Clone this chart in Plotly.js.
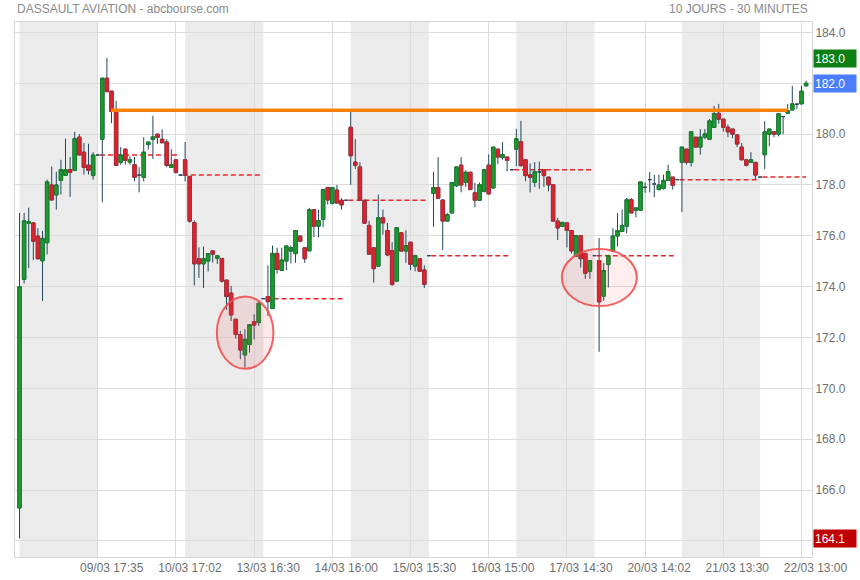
<!DOCTYPE html>
<html><head><meta charset="utf-8">
<script src="https://cdn.plot.ly/plotly-3.0.1.min.js"></script>
<style>html,body{margin:0;padding:0;background:#fff}</style>
</head><body>
<div id="chart" style="width:860px;height:580px"></div>
<script>
// 30-minute candles, 18 per trading day (09:00 ... 17:00 + 17:35 closing auction)
const tickLabels = ["09/03 17:35","10/03 17:02","13/03 16:30","14/03 16:00","15/03 15:30",
                    "16/03 15:00","17/03 14:30","20/03 14:02","21/03 13:30","22/03 13:00"];
const priceTicks = [164,166,168,170,172,174,176,178,180,182,184];

const openP = [
 165.30,174.29,176.50,176.51,175.99,175.02,175.73,178.00,177.61,178.18,178.38,178.60,178.58,179.88,179.29,178.78,178.37,179.18,
 179.80,182.20,181.69,180.89,178.89,179.41,178.90,178.80,178.39,178.30,179.59,179.79,180.00,179.80,179.69,178.69,178.99,178.39,
 178.99,178.34,176.52,175.10,174.90,175.01,175.41,175.12,175.11,174.26,173.75,172.72,172.12,171.32,171.73,172.63,172.59,173.53,
 173.61,173.14,175.31,174.64,175.01,175.40,175.30,175.99,175.53,175.41,177.03,176.38,176.65,177.90,177.28,177.80,177.40,177.40,
 180.27,178.90,178.71,177.40,176.41,175.53,174.81,176.71,176.21,175.42,174.22,176.12,175.40,175.75,174.81,175.10,174.66,175.22,
 177.67,177.90,177.41,176.58,176.90,177.97,178.78,178.10,178.50,177.69,177.40,177.75,178.78,177.88,179.41,179.08,179.10,178.60,
 179.41,179.70,178.99,178.40,178.10,178.51,178.60,178.31,178.01,176.58,176.37,176.51,176.21,175.20,176.01,175.31,174.61,175.22,
 175.03,173.63,174.87,175.40,175.99,176.18,176.38,177.42,177.01,177.01,177.91,178.21,178.04,177.82,177.86,178.18,178.31,178.21,
 178.89,179.41,178.89,179.88,179.49,179.88,179.80,180.26,180.82,180.59,180.27,180.20,179.97,179.49,178.99,178.89,178.89,178.31,
 179.19,180.00,180.09,180.00,180.69,180.82,180.95,181.18,181.19,181.90
];
const highP = [
 176.90,176.90,177.11,176.51,176.30,176.20,178.21,178.73,178.52,178.99,179.82,179.10,180.09,180.00,179.65,179.62,179.29,179.18,
 182.20,182.99,181.69,181.31,179.49,179.41,179.13,179.10,178.70,179.88,179.69,180.72,180.00,180.19,179.80,179.41,178.99,178.39,
 179.69,178.34,176.61,175.55,175.58,175.29,175.41,175.22,175.11,174.26,174.03,172.72,172.26,172.33,172.51,172.91,173.37,173.53,
 174.84,175.62,175.53,175.53,175.62,175.62,176.21,176.01,175.53,177.10,177.03,177.03,177.82,177.90,177.90,178.00,177.48,177.40,
 180.95,179.80,178.90,177.40,176.59,175.53,177.62,177.03,176.51,175.75,176.32,176.12,176.22,175.75,175.23,175.10,174.84,175.22,
 178.52,179.10,177.41,176.90,178.10,178.71,179.10,178.58,178.50,178.08,178.10,178.60,179.20,179.49,179.41,179.69,179.10,178.60,
 180.21,180.52,178.99,178.85,178.90,178.92,178.60,178.31,178.01,176.71,176.53,176.51,176.21,176.01,176.01,175.31,175.03,175.22,
 175.92,174.94,175.23,176.30,176.90,177.03,177.49,177.49,177.10,178.12,178.10,178.51,178.41,178.41,178.41,178.80,178.31,178.21,
 179.49,179.41,180.09,179.88,180.20,180.20,180.59,181.11,181.19,180.59,180.37,180.20,179.97,179.65,178.99,179.29,178.89,178.31,
 180.51,180.20,180.09,180.80,180.69,181.19,181.90,181.19,181.90,182.10
];
const lowP = [
 164.10,174.13,174.73,175.05,175.07,173.44,175.27,177.41,177.03,177.62,178.38,177.53,178.54,179.18,178.41,178.41,178.21,179.18,
 177.32,181.67,180.43,178.77,178.80,178.80,178.80,178.14,177.71,178.14,179.39,179.02,179.62,179.66,178.70,178.69,178.44,178.39,
 178.14,176.52,174.05,174.34,173.95,174.60,174.95,174.90,174.16,173.10,172.65,171.96,171.15,170.82,171.41,171.93,172.46,173.53,
 172.85,173.14,174.52,174.64,174.65,174.91,174.94,175.75,174.94,175.41,175.95,175.95,176.34,177.24,177.24,177.29,177.03,177.40,
 178.01,178.63,177.40,176.50,175.28,174.16,174.81,176.05,175.20,174.03,174.22,175.40,174.94,174.65,174.61,174.61,173.95,175.22,
 176.35,177.48,175.44,176.58,176.90,177.92,177.71,177.92,177.82,177.12,177.40,177.71,177.62,177.88,178.83,179.00,178.54,178.60,
 178.73,178.73,178.15,177.71,177.92,177.85,177.92,177.75,176.58,175.84,176.37,175.55,175.31,175.20,174.75,174.31,174.31,175.22,
 171.44,173.44,173.97,175.40,175.59,176.15,176.10,176.90,176.73,177.01,177.69,177.71,177.52,177.79,177.82,178.18,177.82,178.21,
 176.93,178.80,178.73,179.49,179.19,179.80,179.80,180.26,180.41,180.10,179.88,179.84,179.49,178.99,178.73,178.89,178.24,178.31,
 178.63,179.52,179.88,179.91,180.00,180.82,180.95,180.98,181.19,181.90
];
const closeP = [
 174.00,176.59,176.55,175.79,175.10,175.90,178.12,177.41,178.00,178.60,178.60,178.50,179.82,179.18,178.69,178.58,179.18,179.18,
 182.20,181.67,180.89,178.77,179.18,178.97,178.99,178.30,178.39,179.29,179.69,179.89,179.87,179.66,178.77,178.80,178.50,178.39,
 178.39,176.58,174.90,174.90,175.10,175.30,175.28,175.22,174.22,173.61,172.89,172.12,171.51,171.93,172.51,172.49,173.35,173.53,
 173.41,175.31,174.68,175.05,175.60,175.53,176.21,175.79,175.10,177.03,176.38,176.60,177.82,177.41,177.90,177.29,177.22,177.40,
 179.15,178.77,177.40,176.50,175.28,174.71,176.71,176.51,175.25,174.09,176.32,175.40,175.62,174.88,175.23,174.61,174.09,175.22,
 177.90,177.48,176.58,176.84,178.10,178.71,178.00,178.50,177.82,177.40,178.01,178.60,177.65,179.49,179.10,179.20,178.97,178.60,
 179.82,178.76,178.37,178.30,178.52,178.51,178.37,178.00,176.58,176.31,176.53,176.21,175.41,176.01,175.10,174.53,175.03,175.22,
 173.40,174.64,175.23,175.99,176.21,176.41,177.42,176.90,177.10,178.12,177.91,178.21,178.04,178.00,178.18,178.52,177.99,178.21,
 179.49,178.89,180.09,179.49,179.88,180.01,180.52,180.81,180.59,180.27,180.09,180.00,179.61,178.99,178.78,178.99,178.39,178.31,
 180.09,180.20,180.00,180.80,180.69,180.93,181.19,181.18,181.69,182.00
];

const resistanceLevel = 180.94;       // orange horizontal line
const resistanceFrom = 20, resistanceTo = 167;

const PER_DAY = 18, TICK_STEP = 17;
const WICK = '#23485a';

const idx = closeP.map((_, i) => i);
const isDoji = closeP.map((c, i) => c === openP[i]);
const bO = openP.map((o, i) => isDoji[i] ? null : o);
const bC = closeP.map((c, i) => isDoji[i] ? null : c);
const bH = openP.map((o, i) => isDoji[i] ? null : Math.max(o, closeP[i]));
const bL = openP.map((o, i) => isDoji[i] ? null : Math.min(o, closeP[i]));

const wicks = {
  type: 'candlestick', x: idx, open: openP, high: highP, low: lowP, close: closeP,
  increasing: {line: {color: WICK, width: 1}, fillcolor: WICK},
  decreasing: {line: {color: WICK, width: 1}, fillcolor: WICK},
  whiskerwidth: 0, hoverinfo: 'skip', showlegend: false
};
const bodies = {
  type: 'candlestick', x: idx, open: bO, high: bH, low: bL, close: bC,
  increasing: {line: {color: '#17802a', width: 1}, fillcolor: '#1f9a30'},
  decreasing: {line: {color: '#b32a36', width: 1}, fillcolor: '#e0222d'},
  whiskerwidth: 0, hoverinfo: 'skip', showlegend: false
};

const nDays = Math.ceil(closeP.length / PER_DAY);
const shapes = [];
for (let d = 0; d < nDays; d += 2) {
  shapes.push({type: 'rect', xref: 'x', yref: 'paper', x0: d * PER_DAY, x1: d * PER_DAY + PER_DAY - 1,
    y0: 0, y1: 1, fillcolor: '#ebebeb', line: {width: 0}, layer: 'below'});
}
// previous-close reference lines
for (let d = 0; d < nDays - 1; d++) {
  const ci = d * PER_DAY + PER_DAY - 1;
  shapes.push({type: 'line', xref: 'x', yref: 'y', x0: ci + 0.5,
    x1: Math.min(ci + PER_DAY - 0.4, closeP.length - 1), y0: closeP[ci], y1: closeP[ci],
    line: {color: '#e8262a', width: 1.5, dash: '5px,3px'}, layer: 'between'});
}
shapes.push({type: 'line', xref: 'x', yref: 'y', x0: resistanceFrom - 0.1, x1: resistanceTo,
  y0: resistanceLevel, y1: resistanceLevel, line: {color: '#ff8000', width: 3.5}, layer: 'above'});
// highlighted zones
shapes.push({type: 'circle', xref: 'x', yref: 'y', x0: 42.9, x1: 55.2, y0: 170.77, y1: 173.61,
  line: {color: 'rgba(240,80,80,0.9)', width: 2}, fillcolor: 'rgba(240,70,70,0.12)', layer: 'above'});
shapes.push({type: 'circle', xref: 'x', yref: 'y', x0: 117.9, x1: 134.2, y0: 173.24, y1: 175.48,
  line: {color: 'rgba(240,80,80,0.9)', width: 2}, fillcolor: 'rgba(240,70,70,0.09)', layer: 'above'});

const tickVals = tickLabels.map((_, k) => TICK_STEP + TICK_STEP * k);
const FONT = 'Arial, "Liberation Sans", sans-serif';

const maxHigh = Math.max(...highP), minLow = Math.min(...lowP), last = closeP[closeP.length - 1];
// price tick labels hidden where the value boxes sit over them
const boxed = [minLow, last].map(v => Math.round(v / 2) * 2);
const priceText = priceTicks.map(t => boxed.includes(t) ? '' : t.toFixed(1));

function valBox(v, color) {
  return {xref: 'paper', yref: 'y', x: 1, y: v, xanchor: 'left', yanchor: 'middle', xshift: 1,
    text: v.toFixed(1), showarrow: false, bgcolor: color, width: 40, height: 15, borderpad: 1,
    align: 'left', font: {family: FONT, size: 12, color: '#ffffff'}};
}

const layout = {
  width: 860, height: 580,
  margin: {l: 15, r: 48, t: 22, b: 23},
  paper_bgcolor: '#ffffff', plot_bgcolor: '#ffffff',
  showlegend: false, boxgap: 0.26, boxgroupgap: 0, boxmode: 'overlay',
  font: {family: FONT, size: 12, color: '#6f6f6f'},
  xaxis: {range: [-0.98, 172.28], rangeslider: {visible: false}, tickmode: 'array',
    tickvals: tickVals, ticktext: tickLabels, showgrid: true, gridcolor: '#dcdcdc', gridwidth: 1,
    zeroline: false, showline: true, mirror: true, linecolor: '#d6d6d6', linewidth: 1,
    ticks: '', ticklabelshift: 14, tickfont: {family: FONT, size: 12, color: '#6f6f6f'}},
  yaxis: {range: [163.37, 184.41], side: 'right', tickmode: 'array', tickvals: priceTicks, ticktext: priceText,
    showgrid: true, gridcolor: '#dcdcdc', gridwidth: 1, zeroline: false, showline: true, mirror: true,
    linecolor: '#d6d6d6', linewidth: 1, ticks: '', tickfont: {family: FONT, size: 12, color: '#6f6f6f'}},
  shapes: shapes,
  annotations: [
    {xref: 'paper', yref: 'paper', x: 0, y: 1 + 13 / 535, xanchor: 'left', yanchor: 'middle',
     text: 'DASSAULT AVIATION - abcbourse.com', showarrow: false, font: {family: FONT, size: 12, color: '#8a8a8a'}},
    {xref: 'paper', yref: 'paper', x: 1, y: 1 + 13 / 535, xanchor: 'right', yanchor: 'middle', xshift: -2,
     text: '10 JOURS - 30 MINUTES', showarrow: false, font: {family: FONT, size: 12, color: '#8a8a8a'}},
    valBox(maxHigh, '#0d7f14'),
    valBox(last, '#4a7dff'),
    valBox(minLow, '#c00000')
  ]
};

Plotly.newPlot('chart', [wicks, bodies], layout, {displayModeBar: false, staticPlot: true});
</script>
</body></html>
